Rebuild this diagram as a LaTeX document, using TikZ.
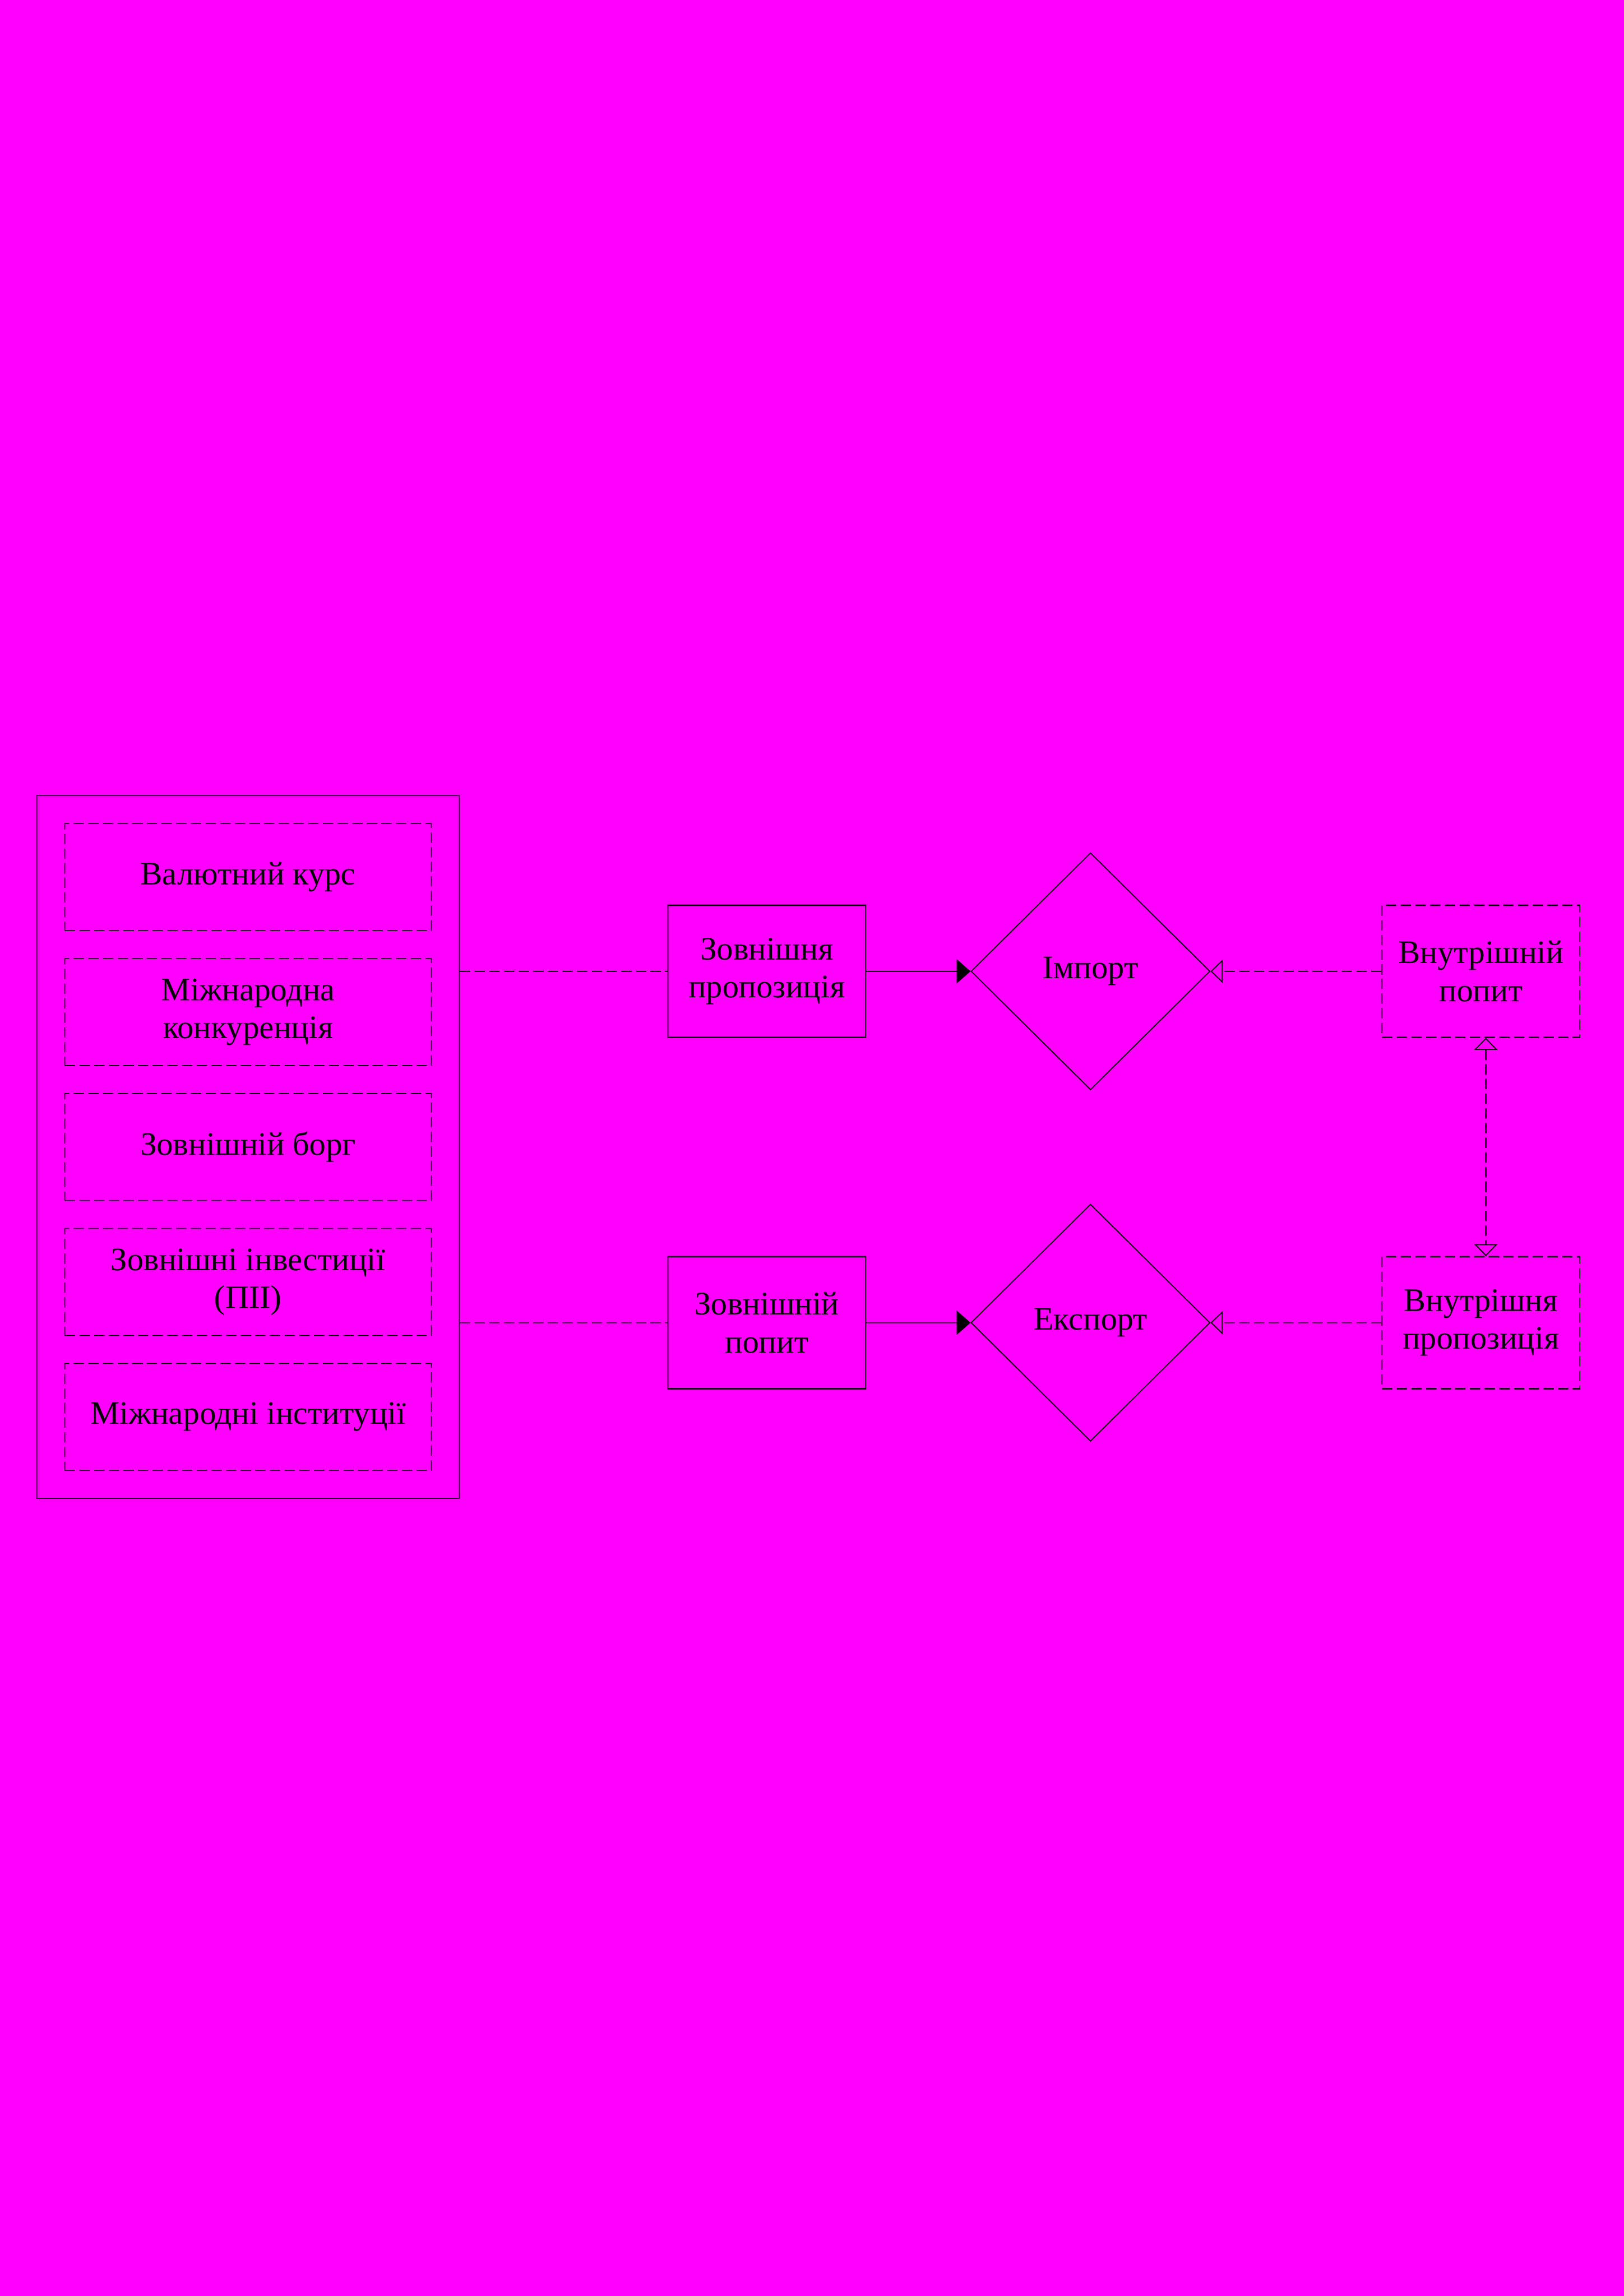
\documentclass[tikz,border=0pt]{standalone}
\usepackage{fontspec}
\setmainfont{Liberation Serif}
\usepackage{tikz}
\usetikzlibrary{shapes.geometric}
\usetikzlibrary{arrows.meta}
\definecolor{pageMagenta}{rgb}{1.0, 0.0, 1.0}
\tikzset{
    dline/.style={dash pattern=on 6pt off 2.5pt},
    factor/.style={draw, dline, minimum width=7.47cm, minimum height=2.18cm, align=center},
    tradebox/.style={draw, minimum width=4.03cm, minimum height=2.69cm, inner sep=2pt, align=center},
    homebox/.style={tradebox, dline},
    flow/.style={draw, diamond, minimum width=4.87cm, minimum height=4.83cm, inner sep=0pt},
    fulltip/.tip={Triangle[length=8pt,width=14pt]},
    opentip/.tip={Triangle[open,length=7pt,width=13.5pt]}
}

\begin{document}
\begin{tikzpicture}[line width=0.6pt, font=\fontsize{19}{22}\selectfont]
        \fill[pageMagenta] (0,0) rectangle (33.09,46.78);

        \node[draw, minimum width=8.61cm, minimum height=14.32cm] (outer) at (5.055,23.41) {};
        \node[factor] (kurs)  at (5.055,28.91) {Валютний курс};
        \node[factor] (konk)  at (5.055,26.16) {Міжнародна\\конкуренція};
        \node[factor] (borg)  at (5.055,23.41) {Зовнішній борг};
        \node[factor] (invest) at (5.055,20.66) {Зовнішні інвестиції\\(ПІІ)};
        \node[factor] (inst)  at (5.055,17.91) {Міжнародні інституції};

        \node[tradebox] (zprop) at (15.625,26.99) {Зовнішня\\пропозиція};
        \node[tradebox] (zpop)  at (15.625,19.83) {Зовнішній\\попит};

        \node[flow] (import) at (22.22,26.99) {Імпорт};
        \node[flow] (export) at (22.22,19.83) {Експорт};

        \node[homebox] (vpop)  at (30.175,26.99) {Внутрішній\\попит};
        \node[homebox] (vprop) at (30.175,19.83) {Внутрішня\\пропозиція};

        \draw[dline] (outer.east |- zprop.west) -- (zprop.west);
        \draw[dline] (outer.east |- zpop.west) -- (zpop.west);

        \draw[-fulltip] (zprop.east) -- (import.west);
        \draw[-fulltip] (zpop.east) -- (export.west);

        \draw[dline, -opentip] (vpop.west) -- (import.east);
        \draw[dline, -opentip] (vprop.west) -- (export.east);

        \draw[dline, opentip-opentip] ([xshift=1mm]vpop.south) -- ([xshift=1mm]vprop.north);
    \end{tikzpicture}
\end{document}
